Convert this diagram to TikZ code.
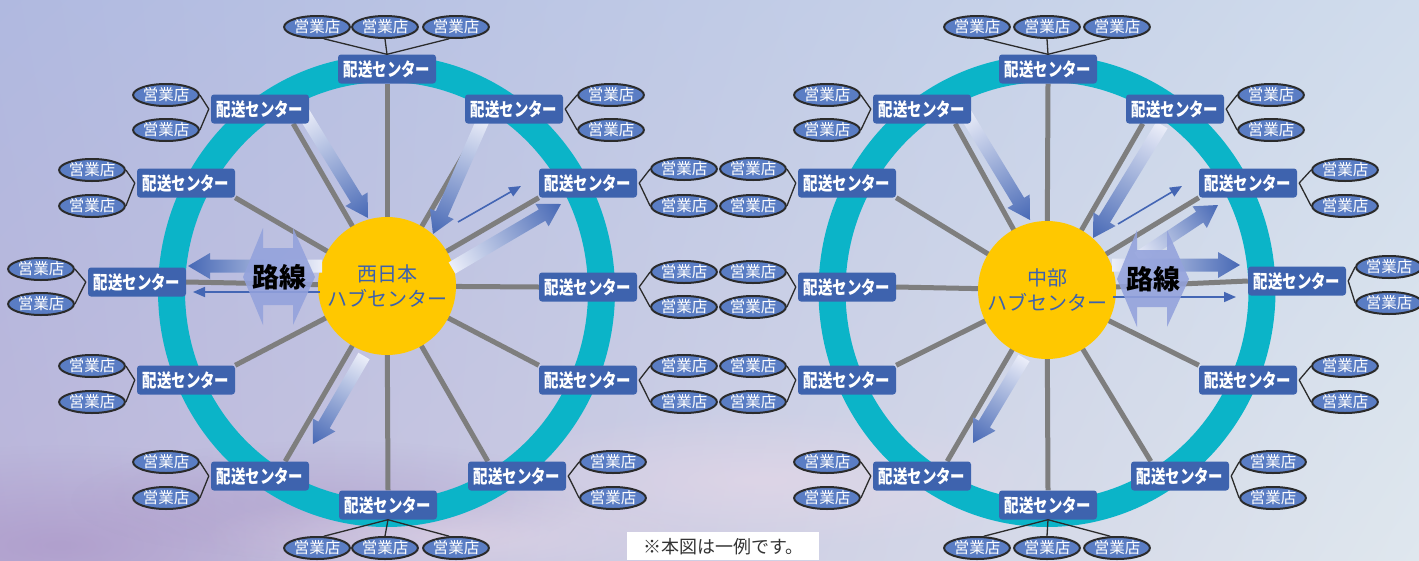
\documentclass[tikz,border=0pt]{standalone}
\usepackage{fontspec}
\setmainfont{Noto Sans CJK JP}
\usepackage{graphicx}
\usetikzlibrary{calc,arrows.meta,shapes.geometric,fadings,shadings}

\definecolor{ringc}{HTML}{0BB4C8}
\definecolor{boxc}{HTML}{3E63AE}
\definecolor{ovalc}{HTML}{5A7DC4}
\definecolor{ovalline}{HTML}{2B2B2B}
\definecolor{spokec}{HTML}{7E7E7E}
\definecolor{hubc}{HTML}{FFC800}
\definecolor{hubtext}{HTML}{3C61AE}
\definecolor{arrowblue}{HTML}{4466B4}
\definecolor{arrowlight}{HTML}{EEF0FA}
\definecolor{routec}{HTML}{93A2DC}
\definecolor{notetext}{HTML}{333333}
\definecolor{bgUL}{HTML}{B0B9E0}
\definecolor{bgUR}{HTML}{D0DCEC}
\definecolor{bgLL}{HTML}{BDB6DA}
\definecolor{bgLR}{HTML}{DFE7EE}
\definecolor{cloudp}{HTML}{EAD9E8}
\definecolor{cloudv}{HTML}{A58CC2}

\pgfdeclarelayer{bgl}
\pgfdeclarelayer{spokel}
\pgfdeclarelayer{hubl}
\pgfdeclarelayer{arrowl}
\pgfsetlayers{bgl,spokel,hubl,arrowl,main}

\tikzfading[name=fuzzyc, inner color=transparent!0, outer color=transparent!100]

\tikzset{
  dcbox/.style={draw=none, fill=boxc, rounded corners=3pt, minimum width=98pt,
    minimum height=29pt, inner sep=0pt, text=white, font=\bfseries\fontsize{18.5}{18.5}\selectfont},
  shop/.style={ellipse, draw=ovalline, line width=2pt, fill=ovalc, minimum width=64pt,
    minimum height=22pt, inner sep=0pt, text=white, font=\fontsize{15.5}{15.5}\selectfont},
  spoke/.style={draw=spokec, line width=5pt},
  link/.style={draw=ovalline, line width=1.3pt},
  ring/.style={draw=ringc, line width=27pt},
  hub/.style={circle, fill=hubc, minimum size=138pt, inner sep=0pt, text=hubtext,
    align=center, font=\fontsize{20}{25}\selectfont},
  thinarr/.style={draw=arrowblue, line width=1.6pt, -{Triangle[length=12pt,width=10pt]}},
  route/.style={fill=routec, opacity=0.88},
  routetext/.style={inner sep=0pt, text=black, font=\bfseries\fontsize{27}{27}\selectfont},
  notebox/.style={fill=white, minimum width=192pt, minimum height=28pt, inner sep=0pt,
    anchor=north west, text=notetext, font=\fontsize{18}{18}\selectfont}
}

\newcommand{\dcnode}[2]{\node[dcbox] (#1) at (#2) {\scalebox{0.78}[1]{配送センター}};}
\newcommand{\shopnode}[2]{\node[shop] (#1) at (#2) {営業店};}
\newcommand{\garrow}[2]{%
  \path let \p1=($(#2)-(#1)$) in \pgfextra{%
    \pgfmathsetmacro\gtmpa{atan2(\y1,\x1)-90}%
    \pgfmathsetmacro\gtmpb{veclen(\x1,\y1)/2+2}%
    \xdef\garrA{\gtmpa}\xdef\garrR{\gtmpb}};
  \coordinate (gN) at ($(#2)!22pt!(#1)$);
  \begin{scope}
    \clip ($(#1)!6.5pt!90:(#2)$) -- ($(gN)!6.5pt!90:(#2)$) -- ($(gN)!13pt!90:(#2)$) -- (#2)
      -- ($(gN)!13pt!-90:(#2)$) -- ($(gN)!6.5pt!-90:(#2)$) -- ($(#1)!6.5pt!-90:(#2)$) -- cycle;
    \shade[bottom color=arrowlight, top color=arrowblue, shading angle=\garrA]
      ($(#1)!0.5!(#2)$) circle [radius=\garrR pt];
  \end{scope}}
% two-way route marker centred at (#1,#2)
\newcommand{\routemark}[2]{%
  \fill[route] ($(#1,#2)+(-16,-49)$) -- ($(#1,#2)+(-16,-29)$) -- ($(#1,#2)+(14,-29)$)
    -- ($(#1,#2)+(14,-49)$) -- ($(#1,#2)+(36,0)$) -- ($(#1,#2)+(14,48)$)
    -- ($(#1,#2)+(14,28)$) -- ($(#1,#2)+(-16,28)$) -- ($(#1,#2)+(-16,48)$)
    -- ($(#1,#2)+(-36,0)$) -- cycle;}

\begin{document}
\begin{tikzpicture}[x=1pt,y=-1pt]
\useasboundingbox (0,0) rectangle (1419,560);

% ---------- background ----------
\begin{pgfonlayer}{bgl}
  \shade[upper left=bgUL, upper right=bgUR, lower left=bgLL, lower right=bgLR]
    (0,0) rectangle (1419,560);
  \fill[cloudv, opacity=0.55, path fading=fuzzyc] (60,545) ellipse [x radius=320pt, y radius=100pt];
  \fill[cloudv, opacity=0.35, path fading=fuzzyc] (330,500) ellipse [x radius=260pt, y radius=60pt];
  \fill[cloudp, opacity=0.55, path fading=fuzzyc] (760,480) ellipse [x radius=300pt, y radius=70pt];
  \fill[cloudp, opacity=0.45, path fading=fuzzyc] (460,535) ellipse [x radius=260pt, y radius=45pt];
  \draw[ring] (386.5,291) ellipse [x radius=215pt, y radius=222.5pt];
  \draw[ring] (1047,291) ellipse [x radius=215pt, y radius=222.5pt];
\end{pgfonlayer}

% ---------- hubs ----------
\begin{pgfonlayer}{hubl}
  \node[hub] (L-hub) at (387,286) {西日本\\ハブセンター};
  \node[hub] (R-hub) at (1047,290) {中部\\ハブセンター};
\end{pgfonlayer}

% ---------- left wheel centers ----------
\dcnode{L-top}{387,69}
\dcnode{L-ul}{260,109}
\dcnode{L-ur}{514,109}
\dcnode{L-lu}{186,183}
\dcnode{L-ru}{588,183}
\dcnode{L-lm}{137,282}
\dcnode{L-rm}{588,287}
\dcnode{L-ll}{186,380}
\dcnode{L-rl}{588,380}
\dcnode{L-bl}{260,476}
\dcnode{L-br}{517,476}
\dcnode{L-bot}{388,505}

% ---------- right wheel centers ----------
\dcnode{R-top}{1048,69}
\dcnode{R-ul}{922,109}
\dcnode{R-ur}{1175,109}
\dcnode{R-lu}{847,183}
\dcnode{R-ru}{1248,183}
\dcnode{R-lm}{847,287}
\dcnode{R-rm}{1297,281}
\dcnode{R-ll}{847,380}
\dcnode{R-rl}{1248,380}
\dcnode{R-bl}{922,476}
\dcnode{R-br}{1180,476}
\dcnode{R-bot}{1048,505}

% ---------- shops, left wheel ----------
\shopnode{L-t1}{317,27} \shopnode{L-t2}{385,27} \shopnode{L-t3}{456,27}
\shopnode{L-b1}{317,548} \shopnode{L-b2}{385,548} \shopnode{L-b3}{456,548}
\shopnode{L-ul1}{166,95} \shopnode{L-ul2}{166,130}
\shopnode{L-ur1}{611,95} \shopnode{L-ur2}{611,130}
\shopnode{L-lu1}{92,170} \shopnode{L-lu2}{92,206}
\shopnode{L-ru1}{684,169} \shopnode{L-ru2}{684,206}
\shopnode{L-lm1}{41,269} \shopnode{L-lm2}{41,304}
\shopnode{L-rm1}{684,272} \shopnode{L-rm2}{684,307}
\shopnode{L-ll1}{92,366} \shopnode{L-ll2}{92,402}
\shopnode{L-rl1}{684,366} \shopnode{L-rl2}{684,402}
\shopnode{L-bl1}{166,462} \shopnode{L-bl2}{166,498}
\shopnode{L-br1}{613,462} \shopnode{L-br2}{613,498}

% ---------- shops, right wheel ----------
\shopnode{R-t1}{977,27} \shopnode{R-t2}{1047,27} \shopnode{R-t3}{1117,27}
\shopnode{R-b1}{977,548} \shopnode{R-b2}{1047,548} \shopnode{R-b3}{1117,548}
\shopnode{R-ul1}{827,95} \shopnode{R-ul2}{827,130}
\shopnode{R-ur1}{1271,95} \shopnode{R-ur2}{1271,130}
\shopnode{R-lu1}{753,169} \shopnode{R-lu2}{753,206}
\shopnode{R-ru1}{1345,170} \shopnode{R-ru2}{1345,206}
\shopnode{R-lm1}{753,272} \shopnode{R-lm2}{753,307}
\shopnode{R-rm1}{1389,267} \shopnode{R-rm2}{1389,303}
\shopnode{R-ll1}{753,366} \shopnode{R-ll2}{753,402}
\shopnode{R-rl1}{1345,366} \shopnode{R-rl2}{1345,402}
\shopnode{R-bl1}{827,462} \shopnode{R-bl2}{827,498}
\shopnode{R-br1}{1273,462} \shopnode{R-br2}{1273,498}

% ---------- links shop - center ----------
\foreach \w in {L,R}{
  \draw[link] (\w-top.north) -- (\w-t1.-60);
  \draw[link] (\w-top.north) -- (\w-t2.south);
  \draw[link] (\w-top.north) -- (\w-t3.-120);
  \draw[link] (\w-bot.south) -- (\w-b1.60);
  \draw[link] (\w-bot.south) -- (\w-b2.north);
  \draw[link] (\w-bot.south) -- (\w-b3.120);
}
\foreach \b in {L-ul,L-lu,L-lm,L-ll,L-bl,R-ul,R-bl,R-lu,R-lm,R-ll}{
  \draw[link] ($(\b.west)+(-2,0)$) -- (\b1.east);
  \draw[link] ($(\b.west)+(-2,0)$) -- (\b2.east);
}
\foreach \b in {L-ur,L-ru,L-rm,L-rl,L-br,R-ur,R-ru,R-rm,R-rl,R-br}{
  \draw[link] ($(\b.east)+(2,0)$) -- (\b1.west);
  \draw[link] ($(\b.east)+(2,0)$) -- (\b2.west);
}

% ---------- spokes ----------
\begin{pgfonlayer}{spokel}
\foreach \w in {L,R}{
  \draw[spoke] (\w-hub.center) -- (\w-top.south);
  \draw[spoke] (\w-hub.center) -- ($(\w-ul.south east)+(-16,0)$);
  \draw[spoke] (\w-hub.center) -- ($(\w-ur.south west)+(17,0)$);
  \draw[spoke] (\w-hub.center) -- (\w-lu.south east);
  \draw[spoke] (\w-hub.center) -- (\w-lm.east);
  \draw[spoke] (\w-hub.center) -- (\w-ll.north east);
  \draw[spoke] (\w-hub.center) -- ($(\w-bl.north east)+(-24,0)$);
  \draw[spoke] (\w-hub.center) -- (\w-bot.north);
  \draw[spoke] (\w-hub.center) -- ($(\w-br.north west)+(20,0)$);
  \draw[spoke] (\w-hub.center) -- (\w-rl.north west);
  \draw[spoke] (\w-hub.center) -- (\w-rm.west);
  \draw[spoke] (\w-hub.center) -- (\w-ru.south west);
}
\end{pgfonlayer}

% ---------- flow arrows ----------
\coordinate (La1s) at (303,112);  \coordinate (La1e) at (368,218);
\coordinate (La2s) at (484,118);  \coordinate (La2e) at (433,234);
\coordinate (La3s) at (458,222);  \coordinate (La3e) at (521,186);
\coordinate (La4s) at (452,268);  \coordinate (La4e) at (561,204);
\coordinate (La5s) at (364,356);  \coordinate (La5e) at (313,444);
\coordinate (La6s) at (322,266);  \coordinate (La6e) at (188,266);
\coordinate (La7s) at (320,292);  \coordinate (La7e) at (193,292);
\coordinate (Rb1s) at (965,113);  \coordinate (Rb1e) at (1030,220);
\coordinate (Rb2s) at (1162,125); \coordinate (Rb2e) at (1093,238);
\coordinate (Rb3s) at (1118,224); \coordinate (Rb3e) at (1182,186);
\coordinate (Rb4s) at (1138,258); \coordinate (Rb4e) at (1218,205);
\coordinate (Rb5s) at (1024,358); \coordinate (Rb5e) at (973,443);
\coordinate (Rb6s) at (1112,265); \coordinate (Rb6e) at (1240,265);
\coordinate (Rb7s) at (1113,297); \coordinate (Rb7e) at (1236,297);

\begin{pgfonlayer}{arrowl}
  \garrow{La1s}{La1e}
  \garrow{La2s}{La2e}
  \garrow{La4s}{La4e}
  \garrow{La5s}{La5e}
  \garrow{La6s}{La6e}
  \draw[thinarr] (La3s) -- (La3e);
  \draw[thinarr] (La7s) -- (La7e);
  \garrow{Rb1s}{Rb1e}
  \garrow{Rb2s}{Rb2e}
  \garrow{Rb4s}{Rb4e}
  \garrow{Rb5s}{Rb5e}
  \garrow{Rb6s}{Rb6e}
  \draw[thinarr] (Rb3s) -- (Rb3e);
  \draw[thinarr] (Rb7s) -- (Rb7e);
\end{pgfonlayer}

% ---------- route markers ----------
\routemark{279}{277}
\node[routetext] (L-route) at (279,277) {路線};
\routemark{1153}{279}
\node[routetext] (R-route) at (1153,279) {路線};

% ---------- note ----------
\node[notebox] (note) at (627,532) {※本図は一例です。};
\end{tikzpicture}
\end{document}
